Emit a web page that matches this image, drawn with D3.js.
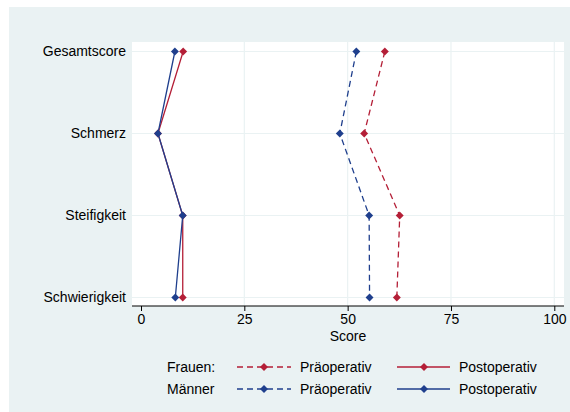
<!DOCTYPE html>
<html>
<head>
<meta charset="utf-8">
<script src="https://cdn.jsdelivr.net/npm/d3@7"></script>
<style>
  body { margin: 0; background: #ffffff; }
  text { font-family: "Liberation Sans", Arial, sans-serif; }
</style>
</head>
<body>
<div id="chart"></div>
<script>
let categories = ["Gesamtscore", "Schmerz", "Steifigkeit", "Schwierigkeit"];
let frauenPre = [59.0, 54.0, 62.6, 61.9];
let frauenPost = [10.2, 4.1, 10.1, 10.1];
let maennerPre = [52.1, 48.1, 55.2, 55.3];
let maennerPost = [8.2, 4.1, 10.1, 8.3];
let xTicks = [0, 25, 50, 75, 100];

let width = 570, height = 412;
let red = "#b41f37", blue = "#1f3f8d";
let fontSize = "14px";

let svg = d3.select("#chart")
    .append("svg")
    .attr("width", width)
    .attr("height", height);

// outer background
svg.append("rect")
    .attr("x", 9).attr("y", 7)
    .attr("width", width - 9).attr("height", height - 7)
    .attr("fill", "#eaf2f3");

let plot = {left: 132, right: 564, top: 42, bottom: 306};

svg.append("rect")
    .attr("x", plot.left).attr("y", plot.top)
    .attr("width", plot.right - plot.left).attr("height", plot.bottom - plot.top)
    .attr("fill", "#ffffff");

let x = d3.scaleLinear()
    .domain([0, 100])
    .range([141, 554.3]);

let y = d3.scalePoint()
    .domain(categories)
    .range([51.5, 297.5]);

// grid
svg.append("g")
    .selectAll("line")
    .data(xTicks.slice(1))
    .enter()
    .append("line")
    .attr("x1", d => x(d)).attr("x2", d => x(d))
    .attr("y1", plot.top).attr("y2", plot.bottom)
    .attr("stroke", "#eaf2f3")
    .attr("stroke-width", 1.2);

svg.append("g")
    .selectAll("line")
    .data(categories)
    .enter()
    .append("line")
    .attr("x1", plot.left).attr("x2", plot.right)
    .attr("y1", d => y(d)).attr("y2", d => y(d))
    .attr("stroke", "#eaf2f3")
    .attr("stroke-width", 1.2);

// x axis
let xAxis = svg.append("g")
    .attr("transform", `translate(0, ${plot.bottom})`)
    .call(d3.axisBottom(x).tickValues(xTicks).tickSize(5).tickPadding(3));
xAxis.select(".domain").remove();
xAxis.append("line")
    .attr("x1", plot.left).attr("x2", plot.right)
    .attr("stroke", "#000").attr("stroke-width", 1);
xAxis.selectAll("text")
    .style("font-size", fontSize)
    .style("font-family", "Liberation Sans, Arial, sans-serif")
    .attr("fill", "#000");
xAxis.selectAll(".tick line").attr("stroke", "#000");

svg.append("text")
    .attr("x", 348).attr("y", 341)
    .style("text-anchor", "middle")
    .style("font-size", fontSize)
    .text("Score");

// y labels
svg.append("g")
    .selectAll("text")
    .data(categories)
    .enter()
    .append("text")
    .attr("x", 126)
    .attr("y", d => y(d))
    .attr("dy", "0.35em")
    .style("text-anchor", "end")
    .style("font-size", fontSize)
    .text(d => d);

let series = [
    {values: frauenPost, color: red, dash: null},
    {values: maennerPost, color: blue, dash: null},
    {values: frauenPre, color: red, dash: "6,4"},
    {values: maennerPre, color: blue, dash: "6,4"}
];

let line = d3.line()
    .x(d => x(d.v))
    .y(d => y(d.c));

let diamond = d3.symbol().type(d3.symbolDiamond2).size(40);

series.forEach(function(s) {
    let pts = s.values.map((v, i) => ({v: v, c: categories[i]}));
    svg.append("path")
        .datum(pts)
        .attr("fill", "none")
        .attr("stroke", s.color)
        .attr("stroke-width", 1.3)
        .attr("stroke-dasharray", s.dash)
        .attr("d", line);
    svg.append("g")
        .selectAll("path")
        .data(pts)
        .enter()
        .append("path")
        .attr("d", diamond)
        .attr("transform", d => `translate(${x(d.v)}, ${y(d.c)})`)
        .attr("fill", s.color);
});

// legend
let legendRows = [
    {label: "Frauen:", color: red, y: 367},
    {label: "Männer", color: blue, y: 389}
];
legendRows.forEach(function(r) {
    svg.append("text")
        .attr("x", 167).attr("y", r.y).attr("dy", "0.35em")
        .style("font-size", fontSize)
        .text(r.label);
    svg.append("line")
        .attr("x1", 237).attr("x2", 291)
        .attr("y1", r.y).attr("y2", r.y)
        .attr("stroke", r.color).attr("stroke-width", 1.3)
        .attr("stroke-dasharray", "6,4");
    svg.append("path")
        .attr("d", diamond)
        .attr("transform", `translate(264, ${r.y})`)
        .attr("fill", r.color);
    svg.append("text")
        .attr("x", 300).attr("y", r.y).attr("dy", "0.35em")
        .style("font-size", fontSize)
        .text("Präoperativ");
    svg.append("line")
        .attr("x1", 397).attr("x2", 450)
        .attr("y1", r.y).attr("y2", r.y)
        .attr("stroke", r.color).attr("stroke-width", 1.3);
    svg.append("path")
        .attr("d", diamond)
        .attr("transform", `translate(424, ${r.y})`)
        .attr("fill", r.color);
    svg.append("text")
        .attr("x", 459).attr("y", r.y).attr("dy", "0.35em")
        .style("font-size", fontSize)
        .text("Postoperativ");
});
</script>
</body>
</html>
